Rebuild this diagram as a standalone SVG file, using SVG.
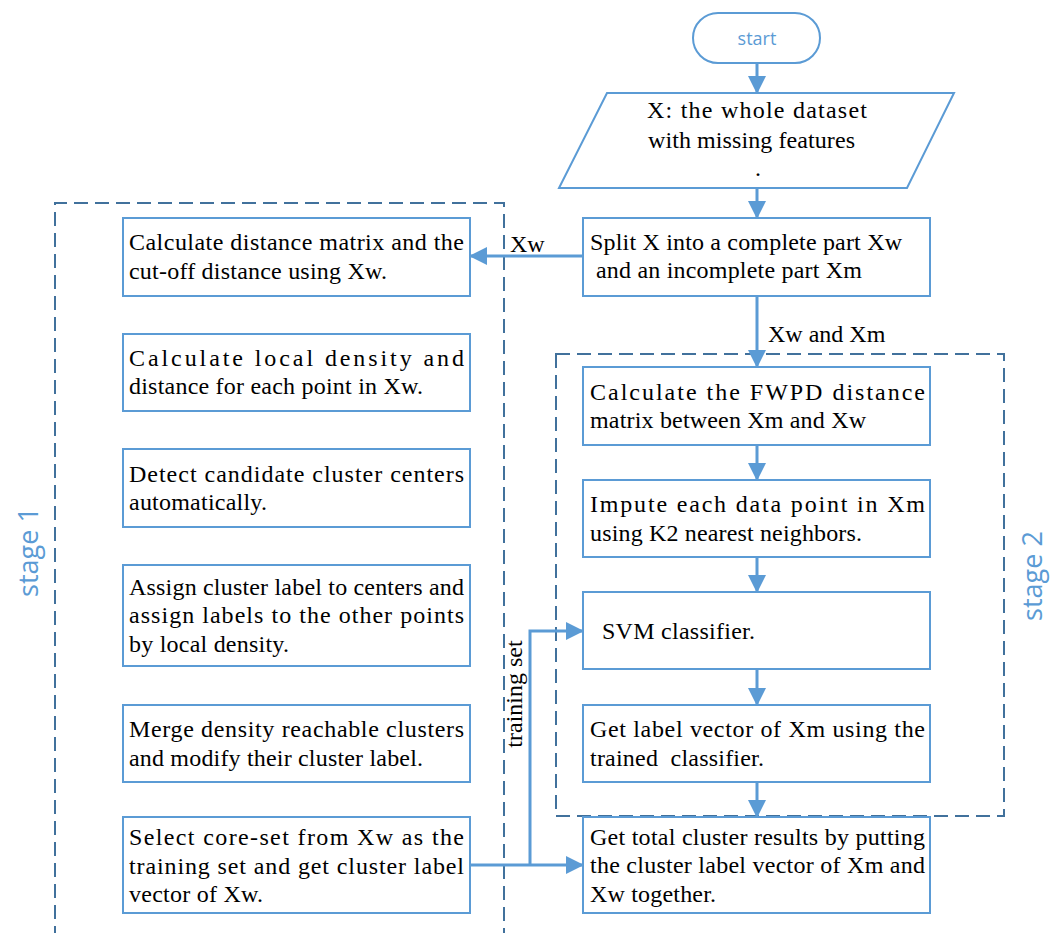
<svg xmlns="http://www.w3.org/2000/svg" width="1059" height="933" viewBox="0 0 1059 933">
<defs>
<style>
.box{fill:#fff;stroke:#5B9BD5;stroke-width:2}
.dash{fill:none;stroke:#41719C;stroke-width:2;stroke-dasharray:14 7}
.conn{fill:none;stroke:#5B9BD5;stroke-width:3}
.t{font-family:"Liberation Serif","Times New Roman",serif;font-size:24px;fill:#000;white-space:pre}
.stage{font-family:"Open Sans","Liberation Sans",sans-serif;font-size:27px;fill:#5B9BD5}
</style>
<marker id="ah" markerUnits="userSpaceOnUse" markerWidth="18" markerHeight="18" refX="17" refY="9" orient="auto">
<path d="M0,0 L18,9 L0,18 z" fill="#5B9BD5"/>
</marker>
</defs>
<rect width="1059" height="933" fill="#fff"/>

<g id="stage1-frame">
<path class="dash" d="M55,940 V203 H504 V940"/>
<text class="stage" transform="translate(38,552) rotate(-90)" text-anchor="middle">stage 1</text>
</g>
<g id="stage2-frame">
<rect class="dash" x="556" y="354" width="448" height="462"/>
<text class="stage" transform="translate(1042,576) rotate(-90)" text-anchor="middle">stage 2</text>
</g>

<g id="connectors">
<path class="conn" d="M757,63 V93" marker-end="url(#ah)"/>
<path class="conn" d="M757,188 V218" marker-end="url(#ah)"/>
<path class="conn" d="M583,256 H470" marker-end="url(#ah)"/>
<path class="conn" d="M757,296 V367" marker-end="url(#ah)"/>
<path class="conn" d="M757,445 V480" marker-end="url(#ah)"/>
<path class="conn" d="M757,557 V592" marker-end="url(#ah)"/>
<path class="conn" d="M757,669 V705" marker-end="url(#ah)"/>
<path class="conn" d="M757,782 V817" marker-end="url(#ah)"/>
<path class="conn" d="M470,865 H583" marker-end="url(#ah)"/>
<path class="conn" d="M530,865 V631 H583" marker-end="url(#ah)"/>
<text class="t" x="510" y="252">Xw</text>
<text class="t" x="768" y="342">Xw and Xm</text>
<text class="t" transform="translate(522,694) rotate(-90)" text-anchor="middle">training set</text>
</g>

<g id="start">
<rect x="693" y="13" width="127" height="50" rx="25" ry="25" class="box"/>
<text x="757" y="45" text-anchor="middle" style="font-family:'Open Sans','Liberation Sans',sans-serif;font-size:18px;fill:#5B9BD5">start</text>
</g>

<g id="dataset">
<polygon class="box" points="607,93 954,93 907,188 559,188"/>
<text class="t" x="647" y="118" textLength="220" lengthAdjust="spacing">X: the whole dataset</text>
<text class="t" x="648" y="148" textLength="207" lengthAdjust="spacing">with missing features</text>
<text class="t" x="755" y="176">.</text>
</g>

<g id="split">
<rect class="box" x="583" y="218" width="347" height="78"/>
<text class="t" x="590" y="250" textLength="312" lengthAdjust="spacing">Split X into a complete part Xw</text>
<text class="t" x="596" y="278" textLength="266" lengthAdjust="spacing">and an incomplete part Xm</text>
</g>

<g id="s1-distance">
<rect class="box" x="123" y="218" width="347" height="78"/>
<text class="t" x="129" y="250" textLength="335" lengthAdjust="spacing">Calculate distance matrix and the</text>
<text class="t" x="129" y="279" textLength="258" lengthAdjust="spacing">cut-off distance using Xw.</text>
</g>
<g id="s1-density">
<rect class="box" x="123" y="334" width="347" height="77"/>
<text class="t" x="129" y="366" textLength="335" lengthAdjust="spacing">Calculate local density and</text>
<text class="t" x="129" y="394" textLength="294" lengthAdjust="spacing">distance for each point in Xw.</text>
</g>
<g id="s1-centers">
<rect class="box" x="123" y="449" width="347" height="78"/>
<text class="t" x="129" y="482" textLength="335" lengthAdjust="spacing">Detect candidate cluster centers</text>
<text class="t" x="129" y="510" textLength="138" lengthAdjust="spacing">automatically.</text>
</g>
<g id="s1-assign">
<rect class="box" x="123" y="565" width="347" height="101"/>
<text class="t" x="129" y="595" textLength="335" lengthAdjust="spacing">Assign cluster label to centers and</text>
<text class="t" x="129" y="623" textLength="335" lengthAdjust="spacing">assign labels to the other points</text>
<text class="t" x="129" y="652" textLength="160" lengthAdjust="spacing">by local density.</text>
</g>
<g id="s1-merge">
<rect class="box" x="123" y="705" width="347" height="77"/>
<text class="t" x="129" y="737" textLength="335" lengthAdjust="spacing">Merge density reachable clusters</text>
<text class="t" x="129" y="766" textLength="294" lengthAdjust="spacing">and modify their cluster label.</text>
</g>
<g id="s1-coreset">
<rect class="box" x="123" y="817" width="347" height="96"/>
<text class="t" x="129" y="845" textLength="335" lengthAdjust="spacing">Select core-set from Xw as the</text>
<text class="t" x="129" y="874" textLength="335" lengthAdjust="spacing">training set and get cluster label</text>
<text class="t" x="129" y="902" textLength="134" lengthAdjust="spacing">vector of Xw.</text>
</g>

<g id="s2-fwpd">
<rect class="box" x="583" y="367" width="347" height="78"/>
<text class="t" x="590" y="400" textLength="335" lengthAdjust="spacing">Calculate the FWPD distance</text>
<text class="t" x="590" y="428" textLength="276" lengthAdjust="spacing">matrix between Xm and Xw</text>
</g>
<g id="s2-impute">
<rect class="box" x="583" y="480" width="347" height="77"/>
<text class="t" x="590" y="512" textLength="335" lengthAdjust="spacing">Impute each data point in Xm</text>
<text class="t" x="590" y="541" textLength="272" lengthAdjust="spacing">using K2 nearest neighbors.</text>
</g>
<g id="s2-svm">
<rect class="box" x="583" y="592" width="347" height="77"/>
<text class="t" x="602" y="639" textLength="153" lengthAdjust="spacing">SVM classifier.</text>
</g>
<g id="s2-label">
<rect class="box" x="583" y="705" width="347" height="77"/>
<text class="t" x="590" y="737" textLength="335" lengthAdjust="spacing">Get label vector of Xm using the</text>
<text class="t" x="590" y="766" textLength="174" lengthAdjust="spacing">trained  classifier.</text>
</g>
<g id="total">
<rect class="box" x="583" y="817" width="347" height="96"/>
<text class="t" x="590" y="845" textLength="335" lengthAdjust="spacing">Get total cluster results by putting</text>
<text class="t" x="590" y="873" textLength="335" lengthAdjust="spacing">the cluster label vector of Xm and</text>
<text class="t" x="590" y="902" textLength="126" lengthAdjust="spacing">Xw together.</text>
</g>
</svg>
